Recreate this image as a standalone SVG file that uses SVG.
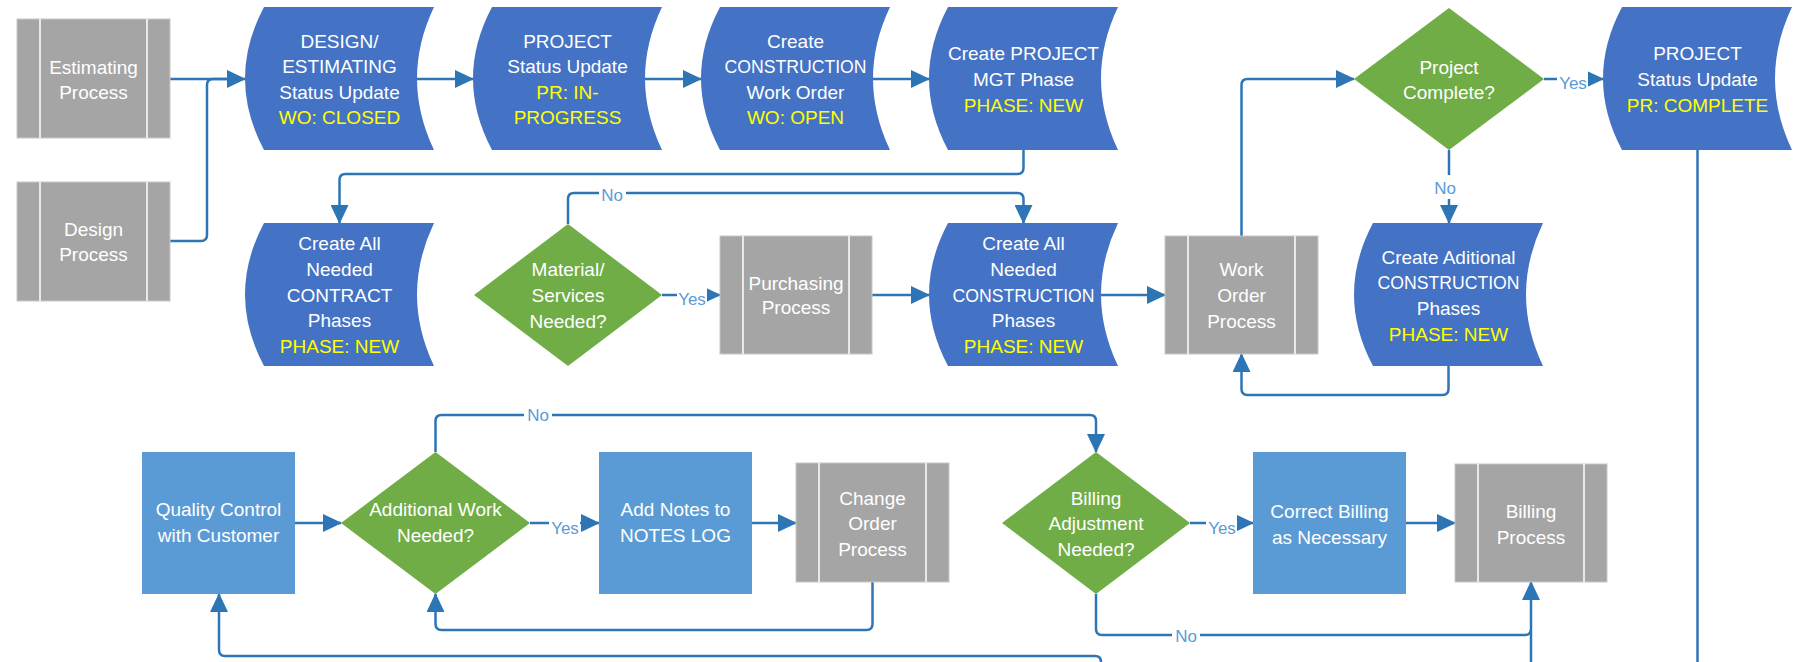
<svg xmlns="http://www.w3.org/2000/svg" width="1796" height="662" viewBox="0 0 1796 662">
<style>
.sd{fill:#4472C4}
.gp{fill:#A5A5A5;stroke:#C8C8C8;stroke-width:1}
.gl{stroke:#FFFFFF;stroke-width:1.5}
.dm{fill:#70AD47}
.lb{fill:#5B9BD5}
.t{font-family:"Liberation Sans",Arial,sans-serif;font-size:19px;fill:#FFFFFF;text-anchor:middle}
.y{fill:#FFFF00}
.c{fill:none;stroke:#2E75B6;stroke-width:2.5;marker-end:url(#ah)}
.cn{fill:none;stroke:#2E75B6;stroke-width:2.5}
.lbl{font-family:"Liberation Sans",Arial,sans-serif;font-size:17px;fill:#5B9BD5;text-anchor:middle}
.bg{fill:#FFFFFF}
</style>
<defs>
<marker id="ah" markerUnits="userSpaceOnUse" markerWidth="19" markerHeight="18" viewBox="0 0 19 18" refX="18" refY="9" orient="auto">
<path d="M0,0 L19,9 L0,18 Z" fill="#2E75B6"/>
</marker>
<path id="sdp" d="M19,0 L189,0 Q155,71.5 189,143 L19,143 Q-19,71.5 19,0 Z"/>
</defs>
<rect width="1796" height="662" fill="#FFFFFF"/>

<g id="connectors">
<path class="c" d="M170,79 L245,79"/>
<path class="cn" d="M170,241 L201,241 Q207,241 207,235 L207,85 Q207,79 213,79 L228,79"/>
<path class="c" d="M417,79 L473,79"/>
<path class="c" d="M645,79 L701,79"/>
<path class="c" d="M873,79 L929,79"/>
<path class="c" d="M1023.5,150 L1023.5,168 Q1023.5,174 1017.5,174 L345.5,174 Q339.5,174 339.5,180 L339.5,223"/>
<path class="c" d="M568,224 L568,199 Q568,193 574,193 L1017.5,193 Q1023.5,193 1023.5,199 L1023.5,223"/>
<path class="c" d="M662,295 L720,295"/>
<path class="c" d="M872,295 L929,295"/>
<path class="c" d="M1101,295 L1165,295"/>
<path class="c" d="M1241.5,236 L1241.5,85 Q1241.5,79 1247.5,79 L1354,79"/>
<path class="c" d="M1544,79 L1603,79"/>
<path class="c" d="M1449,150 L1449,223"/>
<path class="c" d="M1448.5,366 L1448.5,389 Q1448.5,395 1442.5,395 L1247.5,395 Q1241.5,395 1241.5,389 L1241.5,354"/>
<path class="cn" d="M1697.5,150 L1697.5,680"/>
<path class="c" d="M295,523 L341,523"/>
<path class="c" d="M530,523 L599,523"/>
<path class="c" d="M435.5,452 L435.5,421 Q435.5,415 441.5,415 L1090,415 Q1096,415 1096,421 L1096,452"/>
<path class="c" d="M752,523 L796,523"/>
<path class="c" d="M872.5,582 L872.5,624 Q872.5,630 866.5,630 L441.5,630 Q435.5,630 435.5,624 L435.5,594"/>
<path class="c" d="M1190,523 L1253,523"/>
<path class="c" d="M1406,523 L1455,523"/>
<path class="c" d="M1096,594 L1096,629 Q1096,635 1102,635 L1525,635 Q1531,635 1531,629 L1531,582"/>
<path class="cn" d="M1531,700 L1531,630"/>
<path class="c" d="M1101,700 L1101,662 Q1101,656 1095,656 L225,656 Q219,656 219,650 L219,594"/>
<rect class="bg" x="599" y="184" width="27" height="19"/>
<text class="lbl" x="612" y="201">No</text>
<rect class="bg" x="677" y="285" width="30" height="22"/>
<text class="lbl" x="692" y="305">Yes</text>
<rect class="bg" x="1557" y="70" width="31" height="22"/>
<text class="lbl" x="1573" y="89">Yes</text>
<rect class="bg" x="1432" y="175" width="28" height="24"/>
<text class="lbl" x="1445" y="194">No</text>
<rect class="bg" x="524" y="406" width="28" height="19"/>
<text class="lbl" x="538" y="421">No</text>
<rect class="bg" x="549" y="513" width="31" height="22"/>
<text class="lbl" x="565" y="534">Yes</text>
<rect class="bg" x="1206" y="513" width="31" height="22"/>
<text class="lbl" x="1222" y="534">Yes</text>
<rect class="bg" x="1172" y="626" width="28" height="19"/>
<text class="lbl" x="1186" y="642">No</text>
</g>

<g id="estimating">
<rect class="gp" x="17" y="19" width="153" height="119"/>
<line class="gl" x1="40" y1="19" x2="40" y2="138"/><line class="gl" x1="147" y1="19" x2="147" y2="138"/>
<text class="t" x="93.5" y="73.5">Estimating</text><text class="t" x="93.5" y="98.5">Process</text>
</g>
<g id="design">
<rect class="gp" x="17" y="182" width="153" height="119"/>
<line class="gl" x1="40" y1="182" x2="40" y2="301"/><line class="gl" x1="147" y1="182" x2="147" y2="301"/>
<text class="t" x="93.5" y="236">Design</text><text class="t" x="93.5" y="261">Process</text>
</g>

<g id="design-estimating-status">
<use href="#sdp" class="sd" x="245" y="7"/>
<text class="t" x="339.5" y="47.6">DESIGN/</text>
<text class="t" x="339.5" y="73.2">ESTIMATING</text>
<text class="t" x="339.5" y="98.8">Status Update</text>
<text class="t y" x="339.5" y="124.4">WO: CLOSED</text>
</g>
<g id="project-status-inprogress">
<use href="#sdp" class="sd" x="473" y="7"/>
<text class="t" x="567.5" y="47.6">PROJECT</text>
<text class="t" x="567.5" y="73.2">Status Update</text>
<text class="t y" x="567.5" y="98.8">PR: IN-</text>
<text class="t y" x="567.5" y="124.4">PROGRESS</text>
</g>
<g id="create-construction-wo">
<use href="#sdp" class="sd" x="701" y="7"/>
<text class="t" x="795.5" y="47.6">Create</text>
<text class="t" x="795.5" y="73.2" textLength="142" lengthAdjust="spacingAndGlyphs">CONSTRUCTION</text>
<text class="t" x="795.5" y="98.8">Work Order</text>
<text class="t y" x="795.5" y="124.4">WO: OPEN</text>
</g>
<g id="create-project-mgt">
<use href="#sdp" class="sd" x="929" y="7"/>
<text class="t" x="1023.5" y="60.4">Create PROJECT</text>
<text class="t" x="1023.5" y="86">MGT Phase</text>
<text class="t y" x="1023.5" y="111.6">PHASE: NEW</text>
</g>
<g id="project-complete-q">
<polygon class="dm" points="1449,8 1544,79 1449,150 1354,79"/>
<text class="t" x="1449" y="73.5">Project</text>
<text class="t" x="1449" y="98.5">Complete?</text>
</g>
<g id="project-status-complete">
<use href="#sdp" class="sd" x="1603" y="7"/>
<text class="t" x="1697.5" y="60.4">PROJECT</text>
<text class="t" x="1697.5" y="86">Status Update</text>
<text class="t y" x="1697.5" y="111.6">PR: COMPLETE</text>
</g>

<g id="create-contract-phases">
<use href="#sdp" class="sd" x="245" y="223"/>
<text class="t" x="339.5" y="250.3">Create All</text>
<text class="t" x="339.5" y="276">Needed</text>
<text class="t" x="339.5" y="301.7">CONTRACT</text>
<text class="t" x="339.5" y="327.3">Phases</text>
<text class="t y" x="339.5" y="353">PHASE: NEW</text>
</g>
<g id="material-q">
<polygon class="dm" points="568,224 662,295 568,366 474,295"/>
<text class="t" x="568" y="276.3">Material/</text>
<text class="t" x="568" y="302">Services</text>
<text class="t" x="568" y="327.6">Needed?</text>
</g>
<g id="purchasing">
<rect class="gp" x="720" y="236" width="152" height="118"/>
<line class="gl" x1="743" y1="236" x2="743" y2="354"/><line class="gl" x1="849" y1="236" x2="849" y2="354"/>
<text class="t" x="796" y="289.7">Purchasing</text><text class="t" x="796" y="314.3">Process</text>
</g>
<g id="create-construction-phases">
<use href="#sdp" class="sd" x="929" y="223"/>
<text class="t" x="1023.5" y="250.3">Create All</text>
<text class="t" x="1023.5" y="276">Needed</text>
<text class="t" x="1023.5" y="301.7" textLength="142" lengthAdjust="spacingAndGlyphs">CONSTRUCTION</text>
<text class="t" x="1023.5" y="327.3">Phases</text>
<text class="t y" x="1023.5" y="353">PHASE: NEW</text>
</g>
<g id="work-order">
<rect class="gp" x="1165" y="236" width="153" height="118"/>
<line class="gl" x1="1188" y1="236" x2="1188" y2="354"/><line class="gl" x1="1295" y1="236" x2="1295" y2="354"/>
<text class="t" x="1241.5" y="276.3">Work</text>
<text class="t" x="1241.5" y="302">Order</text>
<text class="t" x="1241.5" y="327.6">Process</text>
</g>
<g id="create-additional-phases">
<use href="#sdp" class="sd" x="1354" y="223"/>
<text class="t" x="1448.5" y="263.7">Create Aditional</text>
<text class="t" x="1448.5" y="289.3" textLength="142" lengthAdjust="spacingAndGlyphs">CONSTRUCTION</text>
<text class="t" x="1448.5" y="314.9">Phases</text>
<text class="t y" x="1448.5" y="340.5">PHASE: NEW</text>
</g>

<g id="quality-control">
<rect class="lb" x="142" y="452" width="153" height="142"/>
<text class="t" x="218.5" y="516.3">Quality Control</text>
<text class="t" x="218.5" y="542">with Customer</text>
</g>
<g id="additional-work-q">
<polygon class="dm" points="435.5,452 530,523 435.5,594 341,523"/>
<text class="t" x="435.5" y="516.3">Additional Work</text>
<text class="t" x="435.5" y="542">Needed?</text>
</g>
<g id="add-notes">
<rect class="lb" x="599" y="452" width="153" height="142"/>
<text class="t" x="675.5" y="516.3">Add Notes to</text>
<text class="t" x="675.5" y="542">NOTES LOG</text>
</g>
<g id="change-order">
<rect class="gp" x="796" y="463" width="153" height="119"/>
<line class="gl" x1="819" y1="463" x2="819" y2="582"/><line class="gl" x1="926" y1="463" x2="926" y2="582"/>
<text class="t" x="872.5" y="504.5">Change</text>
<text class="t" x="872.5" y="530">Order</text>
<text class="t" x="872.5" y="555.5">Process</text>
</g>
<g id="billing-adjustment-q">
<polygon class="dm" points="1096,452 1190,523 1096,594 1002,523"/>
<text class="t" x="1096" y="504.5">Billing</text>
<text class="t" x="1096" y="530">Adjustment</text>
<text class="t" x="1096" y="555.5">Needed?</text>
</g>
<g id="correct-billing">
<rect class="lb" x="1253" y="452" width="153" height="142"/>
<text class="t" x="1329.5" y="518">Correct Billing</text>
<text class="t" x="1329.5" y="543.7">as Necessary</text>
</g>
<g id="billing-process">
<rect class="gp" x="1455" y="464" width="152" height="118"/>
<line class="gl" x1="1478" y1="464" x2="1478" y2="582"/><line class="gl" x1="1584" y1="464" x2="1584" y2="582"/>
<text class="t" x="1531" y="518">Billing</text>
<text class="t" x="1531" y="543.7">Process</text>
</g>
</svg>
